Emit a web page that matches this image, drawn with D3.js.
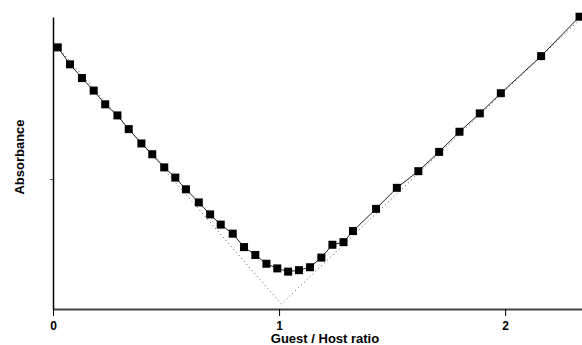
<!DOCTYPE html>
<html>
<head>
<meta charset="utf-8">
<script src="https://cdn.jsdelivr.net/npm/d3@7"></script>
<style>
    body { margin: 0; background: #fff; }
    svg { display: block; }
    text { font-family: 'Liberation Sans', Arial, sans-serif; font-weight: bold; fill: #000; }
</style>
</head>
<body>
<svg class="graph" width="582" height="345"></svg>
<script>
// guest / host titration points
const ratio = [0.021, 0.075, 0.128, 0.180, 0.231, 0.285, 0.335, 0.391, 0.439, 0.492,
               0.541, 0.588, 0.645, 0.695, 0.742, 0.795, 0.845, 0.895, 0.944, 0.992,
               1.040, 1.088, 1.137, 1.187, 1.236, 1.285, 1.327, 1.429, 1.521, 1.616,
               1.708, 1.798, 1.888, 1.981, 2.159, 2.329];
const absorbance = [0.896, 0.838, 0.791, 0.748, 0.701, 0.663, 0.616, 0.567, 0.530, 0.485,
                    0.450, 0.410, 0.365, 0.324, 0.289, 0.258, 0.212, 0.185, 0.155, 0.139,
                    0.128, 0.133, 0.143, 0.176, 0.220, 0.229, 0.267, 0.343, 0.415, 0.472,
                    0.538, 0.607, 0.670, 0.739, 0.866, 1.001];

// dotted asymptotes meeting at the 1:1 point
const fitRatio = [0.02, 1.01, 2.34];
const fitAbs = [0.897, 0.017, 0.999];

const xTicks = [0, 1, 2];
const yTicks = [0.445];

(() => {
    'use strict';

    const svg = d3.select('.graph'),
          xScale = d3.scaleLinear().domain([0, 2.34]).range([53, 582]),
          yScale = d3.scaleLinear().domain([0, 1]).range([309, 17]),
          points = ratio.map((r, i) => ({ r: r, a: absorbance[i] })),
          fit = fitRatio.map((r, i) => ({ r: r, a: fitAbs[i] })),
          line = d3.line().x(d => xScale(d.r)).y(d => yScale(d.a)),
          size = 8;

    // x axis
    const xAxis = svg.append('g')
        .attr('transform', 'translate(0,' + yScale(0) + ')')
        .call(d3.axisBottom(xScale)
            .tickValues(xTicks)
            .tickSize(7)
            .tickSizeOuter(0)
            .tickPadding(5)
            .tickFormat(d3.format('d')));
    xAxis.select('.domain').attr('stroke', '#444').attr('stroke-width', 2);
    xAxis.selectAll('.tick line').attr('stroke', '#000');
    xAxis.selectAll('.tick text')
        .attr('font-size', 12)
        .attr('font-family', null);

    // y axis, no labels
    const yAxis = svg.append('g')
        .attr('transform', 'translate(' + xScale(0) + ',0)')
        .call(d3.axisLeft(yScale)
            .tickValues(yTicks)
            .tickSize(3)
            .tickSizeOuter(0)
            .tickFormat(''));
    yAxis.select('.domain').attr('stroke', '#000').attr('stroke-width', 1.5);
    yAxis.selectAll('.tick line').attr('stroke', '#555');

    // dotted limiting lines
    svg.append('path')
        .datum(fit)
        .attr('fill', 'none')
        .attr('stroke', '#555')
        .attr('stroke-width', 1)
        .attr('stroke-dasharray', '1,3')
        .attr('d', line);

    // solid line through the points
    svg.append('path')
        .datum(points)
        .attr('fill', 'none')
        .attr('stroke', '#222')
        .attr('stroke-width', 1)
        .attr('d', line);

    svg.selectAll('rect.pt')
        .data(points)
        .enter()
        .append('rect')
        .attr('class', 'pt')
        .attr('fill', '#000')
        .attr('x', d => xScale(d.r) - size / 2)
        .attr('y', d => yScale(d.a) - size / 2)
        .attr('width', size)
        .attr('height', size);

    // axis titles
    svg.append('text')
        .attr('x', 325)
        .attr('y', 343)
        .attr('text-anchor', 'middle')
        .attr('font-size', 13)
        .text('Guest / Host ratio');

    svg.append('text')
        .attr('transform', 'translate(23.5,157) rotate(-90)')
        .attr('text-anchor', 'middle')
        .attr('font-size', 13)
        .text('Absorbance');
})();
</script>
</body>
</html>
